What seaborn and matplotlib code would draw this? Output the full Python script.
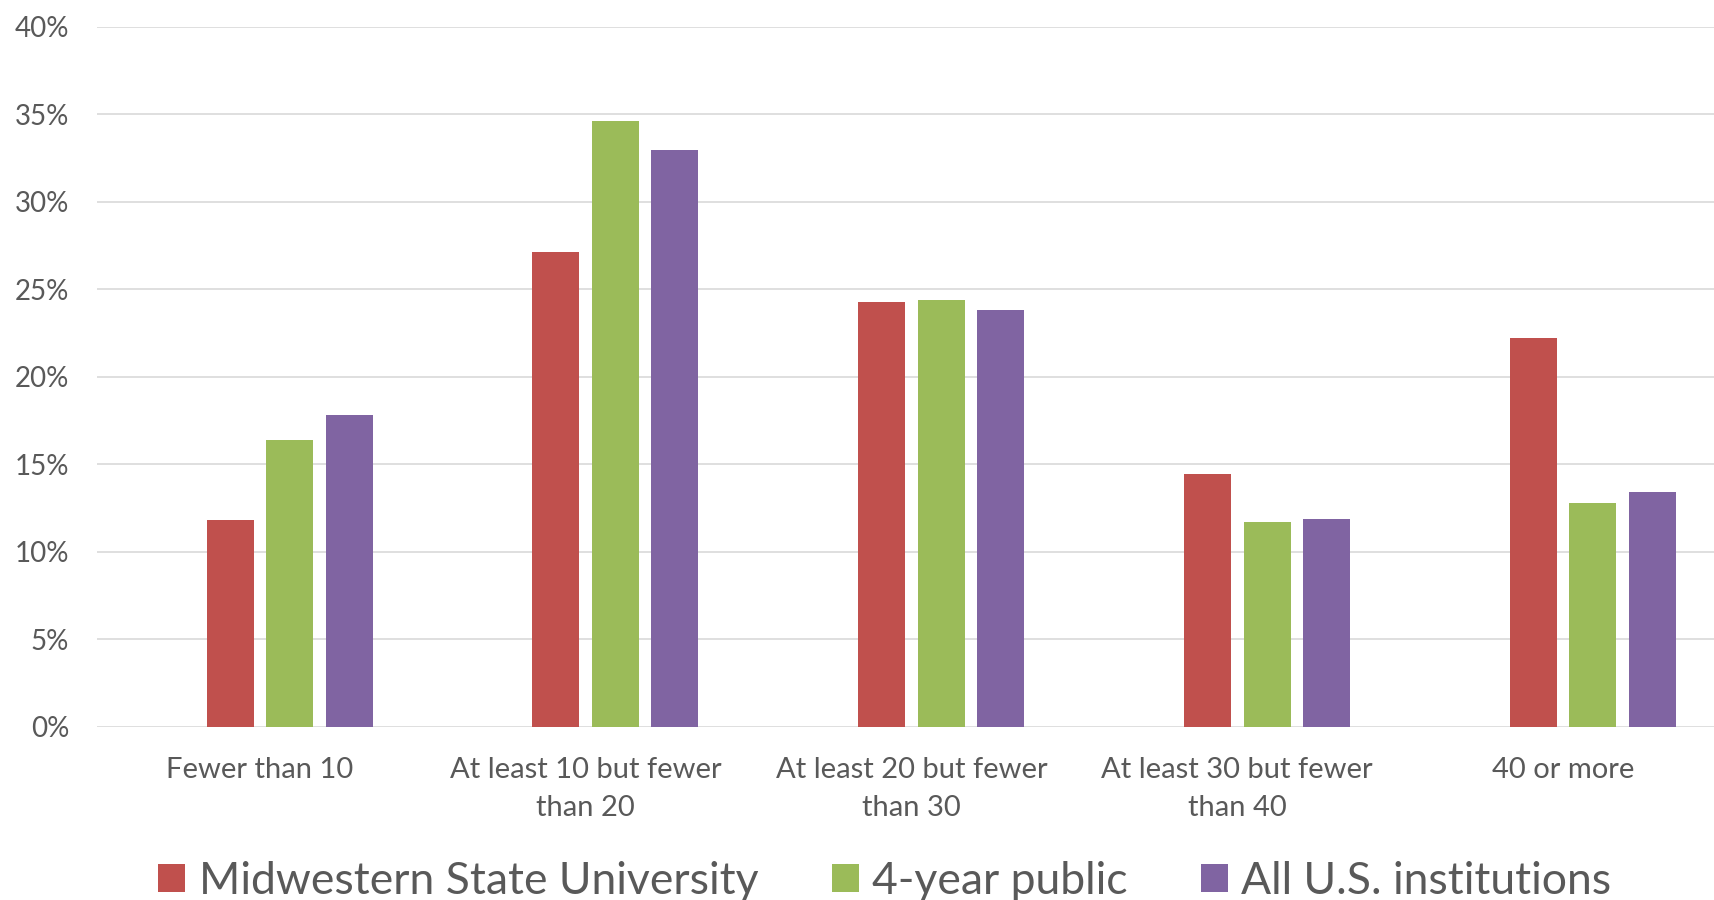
import matplotlib
matplotlib.use("Agg")
import matplotlib.pyplot as plt
from matplotlib.patches import Patch
from matplotlib.ticker import PercentFormatter, MultipleLocator
import pandas as pd
import seaborn as sns

# Class-size categories (x axis)
categories = [
    "Fewer than 10",
    "At least 10 but fewer\nthan 20",
    "At least 20 but fewer\nthan 30",
    "At least 30 but fewer\nthan 40",
    "40 or more",
]

# Share of class sections in each size band
series_names = ["Midwestern State University", "4-year public", "All U.S. institutions"]
midwestern = [0.1181, 0.2714, 0.2425, 0.1442, 0.2223]
public_4yr = [0.1638, 0.3459, 0.2437, 0.1170, 0.1280]
all_us = [0.1779, 0.3294, 0.2383, 0.1189, 0.1343]
colors = ["#C0504D", "#9BBB59", "#8064A2"]

# An empty leading series keeps its slot in each group, as in the workbook chart
spacer = " "

df = pd.DataFrame({
    "category": categories * 3,
    "series": [s for s in series_names for _ in categories],
    "share": midwestern + public_4yr + all_us,
})

sns.set_theme(style="white")
plt.rcParams["font.family"] = ["Lato", "DejaVu Sans"]
text_color = "#595959"
grid_color = "#D9D9D9"

fig = plt.figure(figsize=(17.14, 9.0), dpi=100)
W, H = 1714, 900
left, right = 97, 1726
bottom, top = 726.7, 26.7
ax = fig.add_axes([left / W, 1 - bottom / H, (right - left) / W, (bottom - top) / H])

sns.barplot(
    data=df, x="category", y="share", hue="series",
    order=categories, hue_order=[spacer] + series_names,
    palette=dict(zip([spacer] + series_names, ["#FFFFFF"] + colors)),
    width=0.73, gap=0.21, legend=False, ax=ax,
    edgecolor="none", saturation=1,
)

ax.set_ylim(0, 0.40)
ax.set_xlim(-0.5, 4.5)
ax.yaxis.set_major_locator(MultipleLocator(0.05))
ax.yaxis.set_major_formatter(PercentFormatter(1.0, decimals=0))
ax.set_xlabel("")
ax.set_ylabel("")
ax.set_axisbelow(True)
ax.grid(axis="y", color=grid_color, linewidth=1.2)
for side in ["left", "right", "top", "bottom"]:
    ax.spines[side].set_visible(False)
ax.tick_params(axis="y", length=0, colors=text_color, labelsize=20, pad=20)
ax.tick_params(axis="x", length=0, colors=text_color, labelsize=21, pad=22)
for lbl in ax.get_xticklabels():
    lbl.set_linespacing(1.58)

handles = [Patch(facecolor=c, edgecolor="none") for c in colors]
fig.legend(
    handles, series_names, loc="center", bbox_to_anchor=(885 / W, 1 - 881 / H),
    ncol=3, frameon=False, fontsize=32, labelcolor=text_color,
    handlelength=0.61, handleheight=0.61, handletextpad=0.3, columnspacing=1.65,
)

fig.savefig("out.png", dpi=100)
